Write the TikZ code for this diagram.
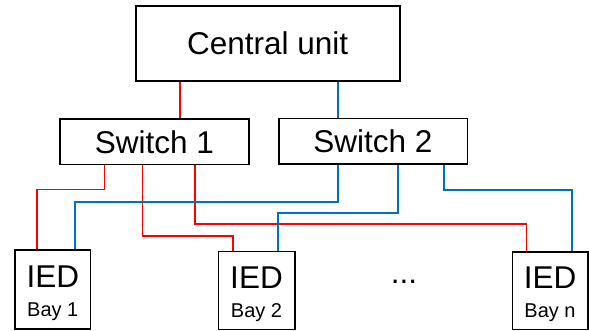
\documentclass[tikz,border=0pt]{standalone}
\usepackage{fontspec}
\setmainfont{Liberation Sans}
\usepackage{tikz}
\usetikzlibrary{calc}
\definecolor{linkred}{RGB}{255,0,0}
\definecolor{linkblue}{RGB}{0,112,192}

\begin{document}
\begin{tikzpicture}[x=1pt,y=-1pt,line join=miter]
  \tikzstyle{box}=[rectangle,draw=black,line width=1.6pt,fill=white,inner sep=0pt]
  \tikzstyle{big}=[font=\fontsize{31.5}{36}\selectfont,inner sep=0pt]
  \tikzstyle{small}=[font=\fontsize{20}{24}\selectfont,inner sep=0pt]
  \tikzstyle{red link}=[draw=linkred,line width=1.6pt]
  \tikzstyle{blue link}=[draw=linkblue,line width=1.6pt]

  \useasboundingbox (0,0) rectangle (589,331);

  \node[box,minimum width=264pt,minimum height=75pt] (cu)  at (267.7,43.5) {};
  \node[big] (cutext) at (cu.center) {Central unit};
  \node[box,minimum width=189pt,minimum height=45.7pt] (sw1) at (154.5,141.8) {};
  \node[big] (sw1text) at (sw1.center) {Switch 1};
  \node[box,minimum width=188.6pt,minimum height=45.6pt] (sw2) at (373,141.5) {};
  \node[big] (sw2text) at (sw2.center) {Switch 2};

  \node[box,minimum width=75.7pt,minimum height=79pt] (bay1) at (52.8,289.5) {};
  \node[big]   (ied1)  at ($(bay1.north)+(0,27)$) {IED};
  \node[small] (lab1)  at ($(bay1.north)+(0,62)$) {Bay 1};
  \node[box,minimum width=76.4pt,minimum height=78pt] (bay2) at (256.5,290.5) {};
  \node[big]   (ied2)  at ($(bay2.north)+(0,27)$) {IED};
  \node[small] (lab2)  at ($(bay2.north)+(0,62)$) {Bay 2};
  \node[box,minimum width=75.4pt,minimum height=77.8pt] (bayn) at (550,290.6) {};
  \node[big]   (iedn)  at ($(bayn.north)+(0,27)$) {IED};
  \node[small] (labn)  at ($(bayn.north)+(0,62)$) {Bay n};

  \node[big] (dots) at (404,282) {...};

  % central unit to switches
  \draw[red link]  ([xshift=45pt]cu.south west) -- ([xshift=45pt]cu.south west |- sw1.north);
  \draw[blue link] ([xshift=203pt]cu.south west) -- ([xshift=203pt]cu.south west |- sw2.north);

  % switch 1 to the bays
  \draw[red link] ([xshift=45.3pt]sw1.south west) -- ++(0,24) -| ([xshift=23pt]bay1.north west);
  \draw[red link] ([xshift=83.3pt]sw1.south west) -- ++(0,70.6) -| ([xshift=15.7pt]bay2.north west);
  \draw[red link] ([xshift=136pt]sw1.south west) -- ++(0,58.6) -| ([xshift=15pt]bayn.north west);

  % switch 2 to the bays
  \draw[blue link] ([xshift=60.3pt]sw2.south west) -- ++(0,36.7) -| ([xshift=60.7pt]bay1.north west);
  \draw[blue link] ([xshift=120.3pt]sw2.south west) -- ++(0,47.7) -| ([xshift=60.4pt]bay2.north west);
  \draw[blue link] ([xshift=165.8pt]sw2.south west) -- ++(0,25) -| ([xshift=60.7pt]bayn.north west);
\end{tikzpicture}
\end{document}
